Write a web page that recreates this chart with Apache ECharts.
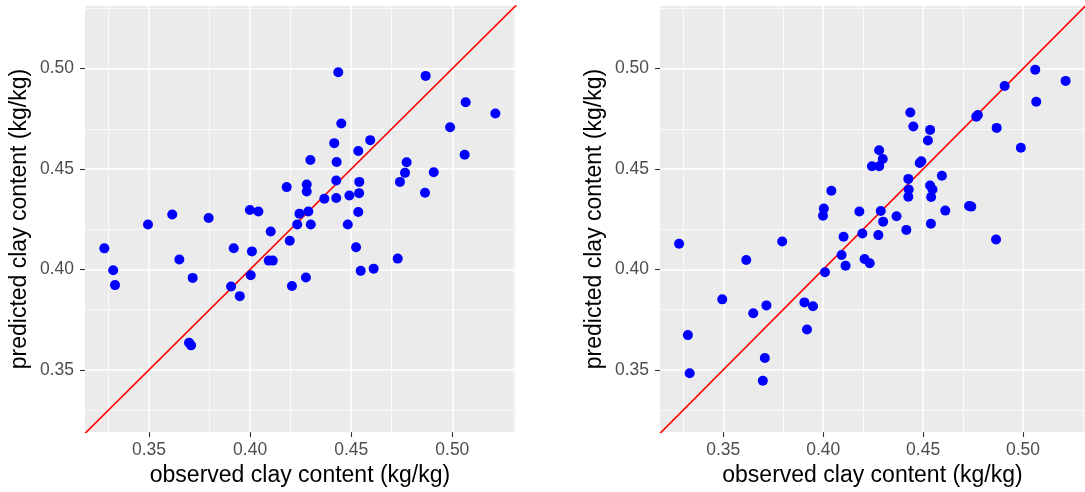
<!DOCTYPE html>
<html>
<head>
<meta charset="utf-8">
<script src="https://cdn.jsdelivr.net/npm/echarts@6/dist/echarts.min.js"></script>
<style>
  html, body { margin: 0; padding: 0; background: #fff; }
  #chart { width: 1085px; height: 492px; }
</style>
</head>
<body>
<div id="chart"></div>
<script>
// observed clay content (shared by both panels)
var observed = [0.3279,0.3323,0.3332,0.3495,0.3615,0.3650,0.3698,0.3708,0.3716,0.3795,
  0.3906,0.3919,0.3949,0.3999,0.4003,0.4009,0.4041,0.4092,0.4102,0.4112,
  0.4181,0.4196,0.4207,0.4233,0.4244,0.4276,0.4280,0.4280,0.4288,0.4298,
  0.4300,0.4367,0.4416,0.4426,0.4426,0.4428,0.4436,0.4451,0.4483,0.4491,
  0.4524,0.4535,0.4535,0.4539,0.4540,0.4547,0.4594,0.4611,0.4730,0.4741,
  0.4766,0.4774,0.4865,0.4868,0.4908,0.4989,0.5061,0.5066,0.5213];
// predicted, left panel
var predictedA = [0.4105,0.3996,0.3922,0.4224,0.4274,0.4050,0.3635,0.3622,0.3958,0.4256,
  0.3915,0.4106,0.3867,0.4296,0.3971,0.4090,0.4289,0.4044,0.4189,0.4044,
  0.4410,0.4143,0.3918,0.4224,0.4278,0.3960,0.4423,0.4388,0.4289,0.4545,
  0.4224,0.4352,0.4629,0.4443,0.4356,0.4535,0.4982,0.4727,0.4224,0.4368,
  0.4111,0.4590,0.4286,0.4380,0.4436,0.3993,0.4644,0.4004,0.4054,0.4436,
  0.4481,0.4534,0.4382,0.4964,0.4484,0.4708,0.4571,0.4833,0.4777];
// predicted, right panel
var predictedB = [0.4128,0.3673,0.3483,0.3851,0.4047,0.3782,0.3446,0.3559,0.3821,0.4139,
  0.3836,0.3701,0.3817,0.4267,0.4303,0.3986,0.4392,0.4072,0.4163,0.4019,
  0.4289,0.4179,0.4052,0.4031,0.4514,0.4171,0.4514,0.4594,0.4291,0.4550,
  0.4238,0.4265,0.4197,0.4451,0.4362,0.4398,0.4782,0.4712,0.4530,0.4539,
  0.4642,0.4695,0.4418,0.4228,0.4361,0.4398,0.4467,0.4293,0.4316,0.4313,
  0.4761,0.4769,0.4149,0.4705,0.4914,0.4606,0.4995,0.4835,0.4939];

var majorTicks = [0.35, 0.40, 0.45, 0.50];
var minorTicks = [0.325, 0.375, 0.425, 0.475, 0.525];
var oneToOne = [0.30, 0.55];   // y = x reference line

var xTitle = 'observed clay content (kg/kg)';
var yTitle = 'predicted clay content (kg/kg)';

var fontFam = '"Liberation Sans", Arial, Helvetica, sans-serif';

function pairs(xs, ys) {
  var out = [];
  for (var i = 0; i < xs.length; i++) out.push([xs[i], ys[i]]);
  return out;
}

//白色网格线（主、次）
function gridLines() {
  var d = [];
  minorTicks.forEach(function (v) {
    d.push({ xAxis: v, lineStyle: { width: 0.7 } });
    d.push({ yAxis: v, lineStyle: { width: 0.7 } });
  });
  majorTicks.forEach(function (v) {
    d.push({ xAxis: v, lineStyle: { width: 1.5 } });
    d.push({ yAxis: v, lineStyle: { width: 1.5 } });
  });
  return d;
}

function makeAxis(kind, idx, range) {
  return {
    type: 'value',
    gridIndex: idx,
    min: range[0],
    max: range[1],
    name: kind === 'x' ? xTitle : yTitle,
    nameLocation: 'middle',
    nameGap: kind === 'x' ? 30 : 54,
    nameTextStyle: { color: '#000', fontSize: 23, fontFamily: fontFam },
    axisLine: { show: false },
    splitLine: { show: false },
    axisTick: { show: true, length: 5, customValues: majorTicks, lineStyle: { color: '#333', width: 1.1 } },
    axisLabel: {
      customValues: majorTicks,
      color: '#4d4d4d', fontSize: 17.5, fontFamily: fontFam,
      margin: kind === 'x' ? 9 : 11,
      formatter: function (v) { return v.toFixed(2); }
    }
  };
}

var xRange = [0.31835, 0.5310];
var yRange = [0.3190, 0.5312];

function panelSeries(idx, preds) {
  return [
    {
      type: 'line', xAxisIndex: idx, yAxisIndex: idx, z: 1,
      data: [], silent: true,
      markLine: {
        silent: true, symbol: 'none', animation: false, z: 1,
        label: { show: false },
        lineStyle: { color: '#fff', type: 'solid' },
        data: gridLines()
      }
    },
    {
      type: 'line', xAxisIndex: idx, yAxisIndex: idx, z: 2,
      data: oneToOne.map(function (v) { return [v, v]; }),
      showSymbol: false, clip: true, silent: true,
      lineStyle: { color: '#ff0000', width: 1.6 }
    },
    {
      type: 'scatter', xAxisIndex: idx, yAxisIndex: idx, z: 3,
      data: pairs(observed, preds),
      symbolSize: 10,
      itemStyle: { color: '#0000ff', opacity: 1 }
    }
  ];
}

var chart = echarts.init(document.getElementById('chart'), null, { renderer: 'canvas' });
chart.setOption({
  animation: false,
  backgroundColor: '#fff',
  grid: [
    { left: 85, top: 6, width: 430, height: 429, show: true, backgroundColor: '#ebebeb', borderWidth: 0 },
    { left: 660, top: 6, width: 430, height: 429, show: true, backgroundColor: '#ebebeb', borderWidth: 0 }
  ],
  xAxis: [makeAxis('x', 0, xRange), makeAxis('x', 1, xRange)],
  yAxis: [makeAxis('y', 0, yRange), makeAxis('y', 1, yRange)],
  series: panelSeries(0, predictedA).concat(panelSeries(1, predictedB))
});
</script>
</body>
</html>
